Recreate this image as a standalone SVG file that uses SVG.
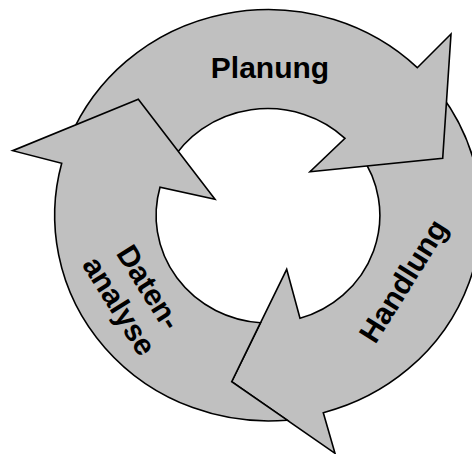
<svg xmlns="http://www.w3.org/2000/svg" width="472" height="454" viewBox="0 0 472 454">
<style>
.arrow{fill:#c0c0c0;stroke:#000;stroke-width:1.6;stroke-linejoin:miter}
.lbl{font-family:"Liberation Sans",Arial,sans-serif;font-weight:bold;font-size:30px;fill:#000;text-anchor:middle}
</style>
<rect width="472" height="454" fill="#fff"/>
<g id="connectors"/>
<g id="handlung">
<path class="arrow" d="M440,93.2 A214,205.5 0 0 1 323.3,412.7 L335,453.3 L231.7,381.7 L286.7,269.3 L300,318.3 A112,107.5 0 0 0 360,154.2 Z"/>
<text class="lbl" transform="translate(403.5,281) rotate(-58)" x="0" y="10">Handlung</text>
</g>
<g id="planung">
<path class="arrow" d="M70,137.5 A214,205.5 0 0 1 417.3,67.7 L451,34 L442.7,158.3 L310,171.7 L345,138.3 A112,107.5 0 0 0 170,163.5 Z"/>
<text class="lbl" x="270" y="78">Planung</text>
</g>
<g id="datenanalyse">
<path class="arrow" d="M287.2,420.2 A214,205.5 0 0 1 61.7,163.3 L12.7,150.7 L138.3,99.3 L215,199.3 L160,187.3 A112,107.5 0 0 0 260.5,322.7 L231.7,381.7 Z"/>
<text class="lbl" transform="translate(133.5,297) rotate(58)"><tspan x="0" y="-8">Daten-</tspan><tspan x="0" y="27">analyse</tspan></text>
</g>
</svg>
